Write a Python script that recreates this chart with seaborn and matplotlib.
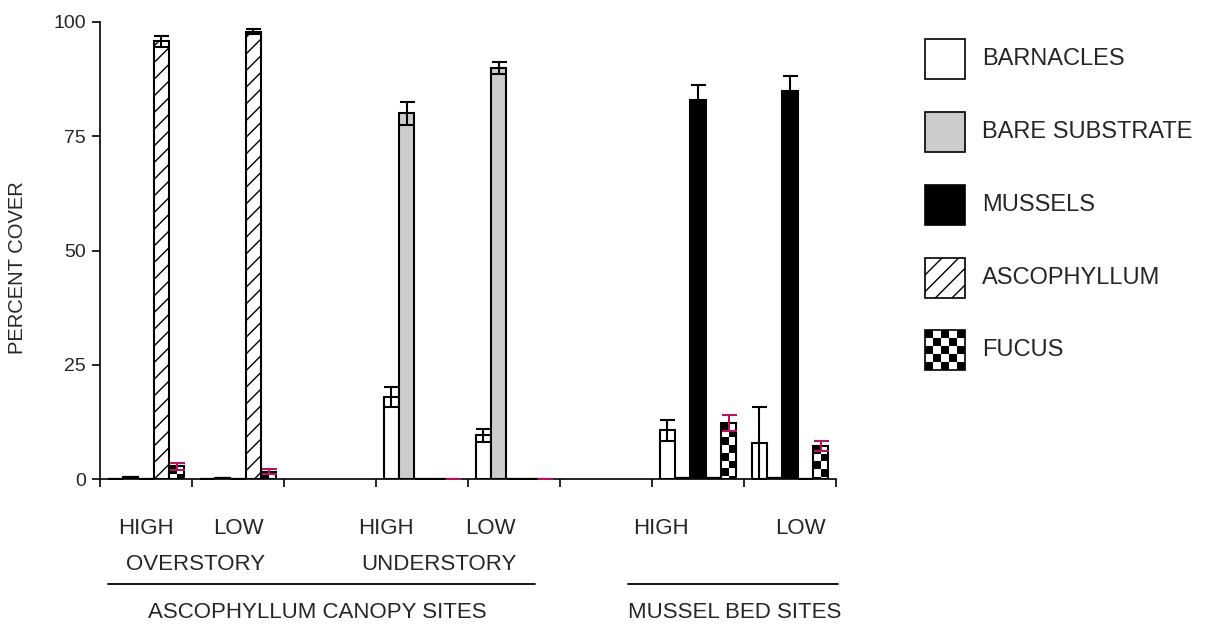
#%% import libraries
import numpy as np
import pandas as pd
import seaborn as sns
import matplotlib.pyplot as plt
from matplotlib.patches import Rectangle
from matplotlib.lines import Line2D

#%% data
cover_types = ['BARNACLES', 'BARE SUBSTRATE', 'MUSSELS', 'ASCOPHYLLUM', 'FUCUS']
sites = ['OVER HIGH', 'OVER LOW', 'UNDER HIGH', 'UNDER LOW', 'MUSSEL HIGH', 'MUSSEL LOW']
site_order = ['OVER HIGH', 'OVER LOW', 'GAP 1', 'UNDER HIGH', 'UNDER LOW', 'GAP 2',
              'MUSSEL HIGH', 'MUSSEL LOW']

barnacles = [0.0, 0.0, 18.0, 9.6, 10.7, 7.9]
barnacles_se = [0.0, 0.0, 2.2, 1.4, 2.3, 7.8]
bare = [0.5, 0.2, 80.0, 90.0, 0.2, 0.2]
bare_se = [0.0, 0.0, 2.6, 1.3, 0.0, 0.0]
mussels = [0.0, 0.0, 0.0, 0.0, 83.0, 85.0]
mussels_se = [0.0, 0.0, 0.0, 0.0, 3.3, 3.1]
ascophyllum = [95.8, 97.9, 0.0, 0.0, 0.2, 0.0]
ascophyllum_se = [1.2, 0.5, 0.0, 0.0, 0.0, 0.0]
fucus = [2.8, 1.6, 0.0, 0.0, 12.3, 7.2]
fucus_se = [0.8, 0.5, 0.0, 0.0, 1.7, 1.1]

means = [barnacles, bare, mussels, ascophyllum, fucus]
errors = [barnacles_se, bare_se, mussels_se, ascophyllum_se, fucus_se]

rows = []
for c, vals, errs in zip(cover_types, means, errors):
    for s, v, e in zip(sites, vals, errs):
        rows.append({'site': s, 'cover': c, 'value': v, 'se': e})
df = pd.DataFrame(rows)

palette = {'BARNACLES': 'white', 'BARE SUBSTRATE': '#cccccc', 'MUSSELS': 'black',
           'ASCOPHYLLUM': 'white', 'FUCUS': 'none'}
err_colors = {'FUCUS': '#b3145c'}

#%% plot
sns.set_theme(style='white')
plt.rcParams['font.family'] = ['Liberation Sans', 'DejaVu Sans']
plt.rcParams['hatch.linewidth'] = 1.0

W, H = 1213, 632
fig = plt.figure(figsize=(W / 100, H / 100), dpi=100)
ax = fig.add_axes([100 / W, 153 / H, 736 / W, 457 / H])

sns.barplot(data=df, x='site', y='value', hue='cover', order=site_order,
            hue_order=cover_types, palette=palette, saturation=1, width=0.83,
            edgecolor='black', linewidth=1.5, errorbar=None, legend=False, ax=ax)

ax.set_xlim(-0.5, len(site_order) - 0.5)
ax.set_ylim(0, 100)

# per-bar value lookup for error bars
site_idx = {s: site_order.index(s) for s in sites}
px_per_x = 736 / len(site_order)
px_per_y = 457 / 100

for j, cover in enumerate(cover_types):
    sub = df[df['cover'] == cover]
    for bar in ax.containers[j]:
        cx = bar.get_x() + bar.get_width() / 2
        k = int(round(cx))
        row = sub[sub['site'].map(site_idx) == k]
        if row.empty:
            continue
        v = row['value'].iloc[0]
        e = row['se'].iloc[0]
        if cover == 'ASCOPHYLLUM':
            bar.set_hatch('//')
        if cover == 'FUCUS':
            # checkerboard fill clipped to the bar (2 squares across)
            w = bar.get_width()
            sx_px = w * px_per_x / 2
            sy = sx_px / px_per_y
            h = bar.get_height()
            nrows = max(1, int(np.ceil(h / sy)))
            ii, jj = np.indices((nrows, 2))
            board = ((ii + jj) % 2).astype(float)
            im = ax.imshow(board, cmap='gray', vmin=0, vmax=1, interpolation='nearest',
                           extent=[bar.get_x(), bar.get_x() + w, h - nrows * sy, h],
                           origin='upper', aspect='auto', zorder=bar.get_zorder() - 0.1)
            im.set_clip_path(bar)
        ax.errorbar(cx, v, yerr=e, fmt='none', ecolor=err_colors.get(cover, 'black'),
                    elinewidth=1.5, capsize=5.4, capthick=1.5, zorder=5)

ax.set_xlim(-0.5, len(site_order) - 0.5)
ax.set_ylim(0, 100)

# axes styling
sns.despine(ax=ax)
for sp in ['left', 'bottom']:
    ax.spines[sp].set_linewidth(1.2)
    ax.spines[sp].set_color('black')
ax.set_xticks(np.arange(-0.5, len(site_order), 1.0))
ax.set_xticklabels([])
ax.set_yticks([0, 25, 50, 75, 100])
ax.tick_params(axis='both', direction='out', length=6, width=1.2, color='black',
               labelsize=14, pad=4, bottom=True, left=True)
ax.set_xlabel('')
ax.set_ylabel('')

fig.text(18 / W, 1 - 268 / H, 'PERCENT COVER', rotation=90, ha='center', va='center',
         fontsize=14.5)

# group labels below the axis
def ftext(x, y, s, size=16):
    fig.text(x / W, 1 - y / H, s, ha='center', va='center', fontsize=size)

for x, s in [(146, 'HIGH'), (238, 'LOW'), (386, 'HIGH'), (490, 'LOW'),
             (661, 'HIGH'), (800, 'LOW')]:
    ftext(x, 528, s)
ftext(196, 564, 'OVERSTORY')
ftext(439, 564, 'UNDERSTORY')
ftext(317, 612, 'ASCOPHYLLUM CANOPY SITES')
ftext(735, 612, 'MUSSEL BED SITES')
for x0, x1 in [(108, 535), (628, 838)]:
    fig.add_artist(Line2D([x0 / W, x1 / W], [1 - 584 / H, 1 - 584 / H],
                          transform=fig.transFigure, color='black', lw=1.3))

# legend drawn by hand
lax = fig.add_axes([900 / W, 1 - 400 / H, 313 / W, 400 / H])
lax.set_xlim(900, 1213)
lax.set_ylim(400, 0)
lax.axis('off')
legend_y = [59, 132, 205, 278, 350]
for cover, yc in zip(cover_types, legend_y):
    face = palette[cover] if cover != 'FUCUS' else 'none'
    rect = Rectangle((925, yc - 20), 40, 40, facecolor=face, edgecolor='black', lw=1.2,
                     hatch='//' if cover == 'ASCOPHYLLUM' else None, zorder=3)
    lax.add_patch(rect)
    if cover == 'FUCUS':
        ii, jj = np.indices((5, 5))
        board = ((ii + jj) % 2).astype(float)
        lax.imshow(board, cmap='gray', vmin=0, vmax=1, interpolation='nearest',
                   extent=[925, 965, yc + 20, yc - 20], aspect='auto', zorder=2)
    lax.text(982, yc, cover, ha='left', va='center', fontsize=17)
lax.set_xlim(900, 1213)
lax.set_ylim(400, 0)

fig.savefig('out.png', dpi=100)
